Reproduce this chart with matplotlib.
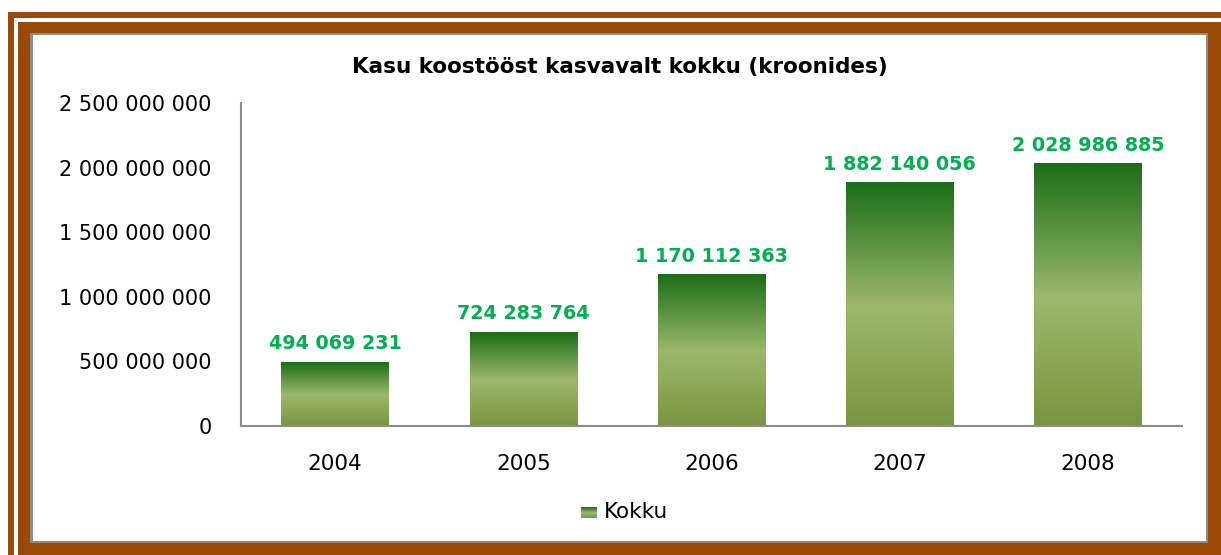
import matplotlib
matplotlib.use('Agg')

import matplotlib.pyplot as plt
import numpy as np
from matplotlib.colors import LinearSegmentedColormap
from matplotlib.patches import Rectangle

years = ['2004', '2005', '2006', '2007', '2008']
kokku = [494069231, 724283764, 1170112363, 1882140056, 2028986885]
yticks = [0, 500000000, 1000000000, 1500000000, 2000000000, 2500000000]

W, H = 1221, 555
BROWN = '#994a07'
GRAY = '#8c8c8c'


def fmt(v):
    return '{:,}'.format(int(v)).replace(',', ' ')


def px_rect(fig, x0, y0, x1, y1, color):
    # pixel coords, origin top-left
    fig.patches.append(Rectangle((x0 / W, 1 - y1 / H), (x1 - x0) / W, (y1 - y0) / H,
                                 transform=fig.transFigure, facecolor=color,
                                 edgecolor='none', zorder=0))


fig = plt.figure(figsize=(W / 100, H / 100), dpi=100)

# frame
px_rect(fig, 8, 12, W, 18, BROWN)
px_rect(fig, 8, 12, 14, H, BROWN)
px_rect(fig, 18, 22, W, 33, BROWN)
px_rect(fig, 18, 22, 30, H, BROWN)
px_rect(fig, 1208, 22, W, H, BROWN)
px_rect(fig, 18, 543, W, H, BROWN)
px_rect(fig, 30, 33, 1208, 35, GRAY)
px_rect(fig, 30, 33, 33, 543, GRAY)
px_rect(fig, 1206, 33, 1208, 543, GRAY)
px_rect(fig, 30, 541, 1208, 543, GRAY)

ax = fig.add_axes([241 / W, 1 - 426 / H, 941 / W, 323 / H])
ax.set_facecolor('none')

cmap = LinearSegmentedColormap.from_list('bar', [(0.0, '#7a9540'), (0.49, '#9cb86c'), (1.0, '#1b6e17')])
grad = np.linspace(0, 1, 256).reshape(-1, 1)

x = np.arange(len(years))
width = 0.57
bars = ax.bar(x, kokku, width=width, color='none', edgecolor='none')
for b, v in zip(bars, kokku):
    x0 = b.get_x()
    ax.imshow(grad, extent=(x0, x0 + width, 0, v), origin='lower', cmap=cmap,
              aspect='auto', zorder=2)
    ax.text(b.get_x() + width / 2, v + 70000000, fmt(v), ha='center', va='bottom',
            color='#00b050', fontsize=13.8, fontweight='bold')

ax.set_xlim(-0.5, len(years) - 0.5)
ax.set_ylim(0, 2500000000)
ax.set_xticks(x)
ax.set_xticklabels(years, fontsize=15.5)
ax.set_yticks(yticks)
ax.set_yticklabels([fmt(t) for t in yticks], fontsize=15)
ax.tick_params(axis='y', length=0, pad=21)
ax.tick_params(axis='x', length=0, pad=20)

for s in ['top', 'right']:
    ax.spines[s].set_visible(False)
for s in ['left', 'bottom']:
    ax.spines[s].set_color(GRAY)
    ax.spines[s].set_linewidth(1.5)

fig.text(620 / W, 1 - 67 / H, 'Kasu koostööst kasvavalt kokku (kroonides)',
         ha='center', va='center', fontsize=15.5, fontweight='bold')

# legend
leg_ax = fig.add_axes([581 / W, 1 - 518 / H, 16 / W, 11 / H])
leg_ax.imshow(grad, origin='lower', cmap=cmap, aspect='auto')
leg_ax.axis('off')
fig.text(604 / W, 1 - 512 / H, 'Kokku', ha='left', va='center', fontsize=15.5)

plt.savefig('out.png', dpi=100)
plt.close()
